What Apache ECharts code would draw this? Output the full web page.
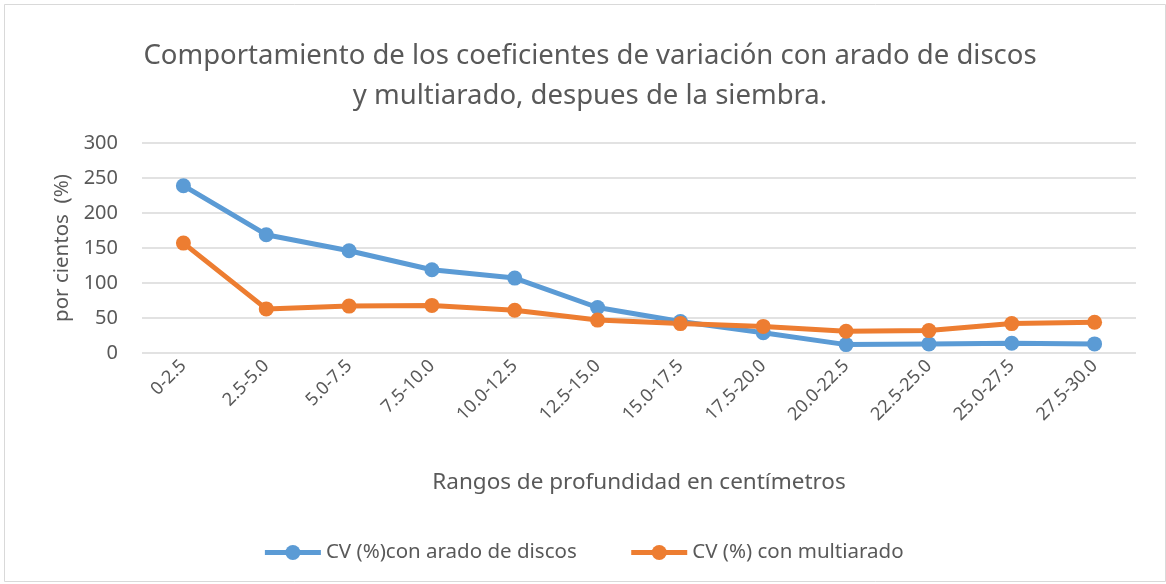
<!DOCTYPE html>
<html><head><meta charset="utf-8">
<script src="https://cdn.jsdelivr.net/npm/echarts@6/dist/echarts.min.js"></script>
<style>html,body{margin:0;padding:0;background:#fff}#c{width:1166px;height:584px}</style>
</head><body><div id="c"></div>
<script>
const categories = ['0-2.5','2.5-5.0','5.0-7.5','7.5-10.0','10.0-12.5','12.5-15.0','15.0-17.5','17.5-20.0','20.0-22.5','22.5-25.0','25.0-27.5','27.5-30.0'];
const discos = [239, 169, 146, 119, 107, 65, 45, 29, 12, 13, 14, 13];
const multiarado = [157, 63, 67, 68, 61, 47, 42, 38, 31, 32, 42, 44];
const seriesNames = ['CV (%)con arado de discos', 'CV (%) con multiarado'];
const FONT = 'Noto Sans';
const chart = echarts.init(document.getElementById('c'));
chart.setOption({
  animation: false,
  backgroundColor: '#fff',
  textStyle: {fontFamily: FONT},
  title: {
    text: 'Comportamiento de los coeficientes de variación con arado de discos\ny multiarado, despues de la siembra.',
    left: 585, top: 31, textAlign: 'center',
    textStyle: {fontFamily: FONT, fontSize: 27.5, fontWeight: 'normal', color: '#595959', lineHeight: 40, align: 'center'}
  },
  grid: {left: 142, right: 30, top: 143, bottom: 231, containLabel: false},
  legend: {
    bottom: 16, left: 'center', itemGap: 52, itemWidth: 56, itemHeight: 19,
    textStyle: {fontFamily: FONT, fontSize: 20.5, color: '#595959'},
    lineStyle: {width: 5},
    data: seriesNames
  },
  xAxis: {
    type: 'category', data: categories, boundaryGap: true,
    name: 'Rangos de profundidad en centímetros', nameLocation: 'middle', nameGap: 118,
    nameTextStyle: {fontFamily: FONT, fontSize: 22.5, color: '#595959'},
    axisLine: {show: false}, axisTick: {show: false},
    axisLabel: {rotate: 45, margin: 10, fontSize: 18, color: '#595959', fontFamily: FONT}
  },
  yAxis: {
    type: 'value', min: 0, max: 300, interval: 50,
    name: 'por cientos  (%)', nameLocation: 'middle', nameGap: 26, nameRotate: 90,
    nameTextStyle: {fontFamily: FONT, fontSize: 20.5, color: '#595959'},
    axisLine: {show: false}, axisTick: {show: false},
    axisLabel: {fontSize: 20, color: '#595959', margin: 24, fontFamily: FONT},
    splitLine: {lineStyle: {color: '#d9d9d9', width: 1.5}}
  },
  series: [
    {name: seriesNames[0], type: 'line', data: discos, symbol: 'circle', symbolSize: 15,
     lineStyle: {width: 5, color: '#5B9BD5'}, itemStyle: {color: '#5B9BD5'}},
    {name: seriesNames[1], type: 'line', data: multiarado, symbol: 'circle', symbolSize: 15,
     lineStyle: {width: 5, color: '#ED7D31'}, itemStyle: {color: '#ED7D31'}}
  ],
  graphic: [{type: 'rect', left: 2, top: 2, shape: {width: 1161, height: 577}, style: {fill: 'none', stroke: '#d9d9d9', lineWidth: 1}}]
});
</script></body></html>
